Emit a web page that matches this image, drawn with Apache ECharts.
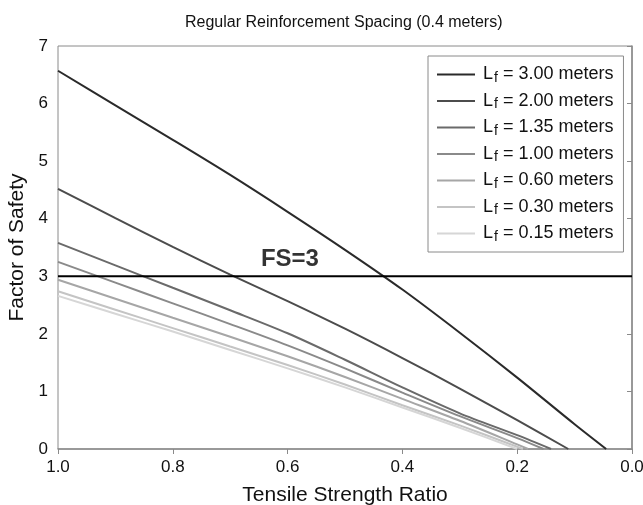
<!DOCTYPE html>
<html>
<head>
<meta charset="utf-8">
<script src="https://cdn.jsdelivr.net/npm/echarts@6/dist/echarts.min.js"></script>
<style>
  html, body { margin: 0; padding: 0; background: #fff; }
  #chart { width: 643px; height: 505px; }
</style>
</head>
<body>
<div id="chart"></div>
<script>
// tensile strength ratio at each data point (axis runs 1.0 -> 0.0)
const ratio = [1.0, 0.9, 0.8, 0.7, 0.6, 0.5, 0.4, 0.3, 0.2, 0.1]

// factor of safety for each anchor length, plus where each line hits zero
const lf300 = [6.57, 5.97, 5.37, 4.76, 4.12, 3.46, 2.77, 2.02, 1.24, 0.43]
const lf200 = [4.52, 4.01, 3.51, 3.03, 2.57, 2.09, 1.58, 1.05, 0.50]
const lf135 = [3.58, 3.19, 2.80, 2.41, 2.01, 1.55, 1.07, 0.62, 0.24]
const lf100 = [3.25, 2.89, 2.53, 2.17, 1.80, 1.40, 0.98, 0.57, 0.19]
const lf060 = [2.94, 2.61, 2.28, 1.95, 1.61, 1.25, 0.87, 0.49, 0.08]
const lf030 = [2.74, 2.42, 2.10, 1.78, 1.46, 1.12, 0.76, 0.41, 0.04]
const lf015 = [2.66, 2.35, 2.04, 1.72, 1.40, 1.07, 0.72, 0.37]
const zeroAt = [0.045, 0.111, 0.141, 0.154, 0.181, 0.19, 0.2]

const lengths = ['3.00', '2.00', '1.35', '1.00', '0.60', '0.30', '0.15']
const values = [lf300, lf200, lf135, lf100, lf060, lf030, lf015]
const colors = ['#2a2a2a', '#4c4c4c', '#6a6a6a', '#8a8a8a', '#a6a6a6', '#c4c4c4', '#d6d6d6']

const fsLevel = 3
const xTicks = [0, 0.2, 0.4, 0.6, 0.8, 1.0]

const font = 'Liberation Sans, Arial, sans-serif'

const chart = echarts.init(document.getElementById('chart'))

const series = lengths.map((len, i) => {
  const pts = values[i].map((v, j) => [ratio[j], v])
  pts.push([zeroAt[i], 0])
  return {
    name: 'Lf = ' + len + ' meters',
    type: 'line',
    symbol: 'none',
    smooth: 0.3,
    data: pts,
    lineStyle: { color: colors[i], width: 2 },
    itemStyle: { color: colors[i] },
    z: 3
  }
})

series.push({
  name: 'FS',
  type: 'line',
  symbol: 'none',
  data: [[xTicks[xTicks.length - 1], fsLevel], [xTicks[0], fsLevel]],
  lineStyle: { color: '#000', width: 2 },
  z: 4
})

series.push({
  name: 'FS label',
  type: 'scatter',
  symbolSize: 0,
  data: [[0.596, fsLevel + 0.3]],
  label: {
    show: true,
    position: 'inside',
    formatter: 'FS=' + fsLevel,
    fontFamily: font,
    fontWeight: 'bold',
    fontSize: 24,
    color: '#000'
  },
  z: 5
})

chart.setOption({
  animation: false,
  backgroundColor: '#fff',
  title: {
    text: 'Regular Reinforcement Spacing (0.4 meters)',
    left: 180,
    top: 10,
    textStyle: { fontFamily: font, fontSize: 16, fontWeight: 'normal', color: '#111' }
  },
  grid: {
    left: 58,
    right: 11,
    top: 46,
    bottom: 56,
    outerBoundsMode: 'none',
    containLabel: false,
    show: true,
    borderColor: '#8a8a8a',
    borderWidth: 1
  },
  xAxis: {
    type: 'value',
    inverse: true,
    min: 0,
    max: 1,
    interval: 0.2,
    name: 'Tensile Strength Ratio',
    nameLocation: 'middle',
    nameGap: 36,
    nameTextStyle: { fontFamily: font, fontSize: 21, color: '#111' },
    axisLine: { show: true, lineStyle: { color: '#8a8a8a', width: 1.5 } },
    axisTick: { show: true, inside: false, length: 5, lineStyle: { color: '#8a8a8a' } },
    axisLabel: {
      fontFamily: font, fontSize: 17, color: '#111', margin: 10,
      formatter: v => v.toFixed(1)
    },
    splitLine: { show: false }
  },
  yAxis: {
    type: 'value',
    min: 0,
    max: 7,
    interval: 1,
    name: 'Factor of Safety',
    nameLocation: 'middle',
    nameGap: 29,
    nameTextStyle: { fontFamily: font, fontSize: 21, color: '#111' },
    axisLine: { show: true, lineStyle: { color: '#8a8a8a', width: 1.5 } },
    axisTick: { show: true, inside: false, length: 5, lineStyle: { color: '#8a8a8a' } },
    axisLabel: { fontFamily: font, fontSize: 17, color: '#111', margin: 10 },
    splitLine: { show: false }
  },
  legend: {
    data: series.slice(0, lengths.length).map(s => s.name),
    orient: 'vertical',
    left: 428,
    top: 56,
    padding: [8, 10, 8, 9],
    backgroundColor: '#fff',
    borderColor: '#8a8a8a',
    borderWidth: 1,
    icon: 'rect',
    itemWidth: 38,
    itemHeight: 2,
    itemGap: 5.5,
    formatter: name => {
      const len = name.split(' ')[2]
      return '{l|L}{s|f}{l| = ' + len + ' meters}'
    },
    textStyle: {
      fontFamily: font,
      fontSize: 18,
      color: '#111',
      padding: [0, 0, 0, 3],
      rich: {
        l: { fontFamily: font, fontSize: 18, lineHeight: 21, color: '#111' },
        s: { fontFamily: font, fontSize: 14, lineHeight: 21, color: '#111', padding: [7, 0, 0, 1] }
      }
    }
  },
  series: series
})
</script>
</body>
</html>
